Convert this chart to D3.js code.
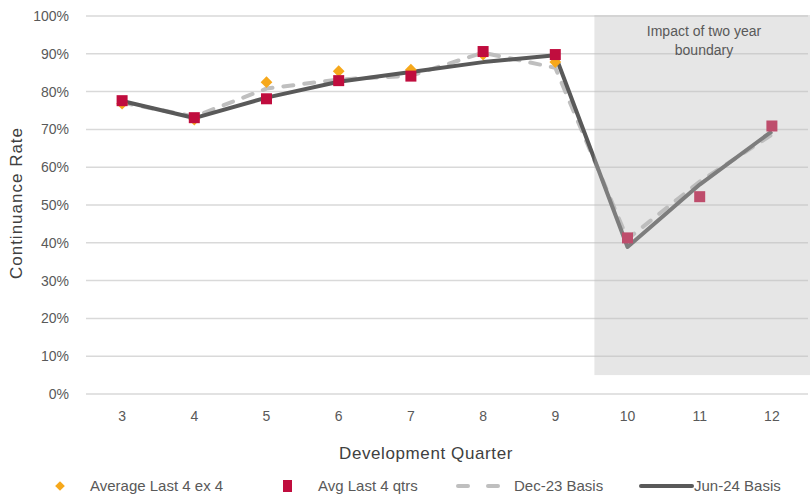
<!DOCTYPE html>
<html>
<head>
<meta charset="utf-8">
<script src="https://cdn.jsdelivr.net/npm/d3@7"></script>
<style>
  html, body { margin: 0; padding: 0; background: #fff; }
  svg { display: block; font-family: "Liberation Sans", Arial, sans-serif; }
</style>
</head>
<body>
<svg id="chart" width="811" height="497"></svg>
<script>
// Development quarters on the x axis
const quarters = [3, 4, 5, 6, 7, 8, 9, 10, 11, 12];
// Continuance rates (%) by series
const avgEx4 = [76.8, 72.6, 82.5, 85.4, 85.8, 89.8, 87.8];           // quarters 3–9
const avgLast4 = [77.6, 73.1, 78.1, 82.9, 84.1, 90.6, 89.8, 41.3, 52.2, 70.9];
const dec23 = [77.1, 73.4, 80.8, 83.2, 84.2, 90.3, 86.3, 41.0, 56.2, 68.6];
const jun24 = [77.5, 73.0, 78.4, 82.6, 85.2, 87.8, 89.6, 38.9, 55.4, 69.5];
const yTicks = [0, 10, 20, 30, 40, 50, 60, 70, 80, 90, 100];
// Quarters affected by the two-year boundary
const boundaryFrom = 10, boundaryTo = 12;
const boundaryLabel = ["Impact of two year", "boundary"];

const svg = d3.select("#chart");
const m = { left: 86, right: 3, top: 16, bottom: 103 };
const W = 811, H = 497;

const x = d3.scaleBand().domain(quarters).range([m.left, W - m.right]);
const y = d3.scaleLinear().domain([0, 100]).range([H - m.bottom, m.top]);
const cx = q => x(q) + x.bandwidth() / 2;

// Gridlines
svg.append("g")
  .selectAll("line").data(yTicks).join("line")
  .attr("x1", m.left).attr("x2", W - m.right)
  .attr("y1", d => y(d)).attr("y2", d => y(d))
  .attr("stroke", "#d9d9d9").attr("stroke-width", 1.5);

// Y axis labels
const yAxis = svg.append("g")
  .attr("transform", `translate(${m.left},0)`)
  .call(d3.axisLeft(y).tickValues(yTicks).tickFormat(d => d + "%").tickSize(0).tickPadding(17));
yAxis.select(".domain").remove();
yAxis.selectAll("text").attr("fill", "#595959").style("font-size", "14px");

// X axis labels
const xAxis = svg.append("g")
  .attr("transform", `translate(0,${y(0)})`)
  .call(d3.axisBottom(x).tickSize(0).tickPadding(17));
xAxis.select(".domain").remove();
xAxis.selectAll("text").attr("fill", "#595959").style("font-size", "14px");

// Axis titles
svg.append("text")
  .attr("transform", `translate(22,${(y(0) + y(100)) / 2 - 2}) rotate(-90)`)
  .attr("text-anchor", "middle").attr("fill", "#404040")
  .style("font-size", "17px").style("letter-spacing", "1px")
  .text("Continuance Rate");
svg.append("text")
  .attr("x", 426).attr("y", 459)
  .attr("text-anchor", "middle").attr("fill", "#404040")
  .style("font-size", "17px").style("letter-spacing", "0.6px")
  .text("Development Quarter");

const line = d3.line().x((d, i) => cx(quarters[i])).y(d => y(d));

// Dec-23 basis (dashed)
svg.append("path").datum(dec23)
  .attr("d", line).attr("fill", "none")
  .attr("stroke", "#bfbfbf").attr("stroke-width", 4)
  .attr("stroke-dasharray", "10,11").attr("stroke-linecap", "round");

// Jun-24 basis (solid)
svg.append("path").datum(jun24)
  .attr("d", line).attr("fill", "none")
  .attr("stroke", "#595959").attr("stroke-width", 4)
  .attr("stroke-linejoin", "round");

// Average last 4 ex 4 (diamonds)
const diamond = d3.symbol().type(d3.symbolDiamond2).size(88);
svg.append("g").selectAll("path").data(avgEx4).join("path")
  .attr("d", diamond)
  .attr("transform", (d, i) => `translate(${cx(quarters[i])},${y(d)})`)
  .attr("fill", "#f6a81b");

// Avg last 4 qtrs (squares)
const sq = 11;
svg.append("g").selectAll("rect").data(avgLast4).join("rect")
  .attr("x", (d, i) => cx(quarters[i]) - sq / 2)
  .attr("y", d => y(d) - sq / 2)
  .attr("width", sq).attr("height", sq)
  .attr("fill", "#c00d3e");

// Shaded two-year-boundary region
const bx0 = x(boundaryFrom) + 3;
const bx1 = x(boundaryTo) + x.bandwidth() + 2;
svg.append("rect")
  .attr("x", bx0).attr("y", y(100) - 1)
  .attr("width", bx1 - bx0)
  .attr("height", y(5) - y(100) + 1)
  .attr("fill", "rgb(188,188,188)").attr("fill-opacity", 0.37);

svg.append("text")
  .attr("text-anchor", "middle").attr("fill", "#595959")
  .style("font-size", "14px")
  .selectAll("tspan").data(boundaryLabel).join("tspan")
  .attr("x", 704).attr("y", (d, i) => 36 + i * 19)
  .text(d => d);

// Legend
const leg = svg.append("g").attr("transform", "translate(0,486)");
leg.append("path").attr("d", d3.symbol().type(d3.symbolDiamond2).size(60))
  .attr("transform", "translate(60,0)").attr("fill", "#f6a81b");
leg.append("rect").attr("x", 283).attr("y", -6).attr("width", 9).attr("height", 12).attr("fill", "#c00d3e");
leg.append("line").attr("x1", 458).attr("x2", 504).attr("y1", 0).attr("y2", 0)
  .attr("stroke", "#bfbfbf").attr("stroke-width", 4).attr("stroke-linecap", "round")
  .attr("stroke-dasharray", "10,20");
leg.append("line").attr("x1", 641).attr("x2", 692).attr("y1", 0).attr("y2", 0)
  .attr("stroke", "#595959").attr("stroke-width", 4).attr("stroke-linecap", "round");
const legText = [
  { x: 90, t: "Average Last 4 ex 4" },
  { x: 318, t: "Avg Last 4 qtrs" },
  { x: 514, t: "Dec-23 Basis" },
  { x: 694, t: "Jun-24 Basis" }
];
leg.selectAll("text.l").data(legText).join("text")
  .attr("class", "l").attr("x", d => d.x).attr("y", 5)
  .attr("fill", "#595959").style("font-size", "15px")
  .text(d => d.t);
</script>
</body>
</html>
